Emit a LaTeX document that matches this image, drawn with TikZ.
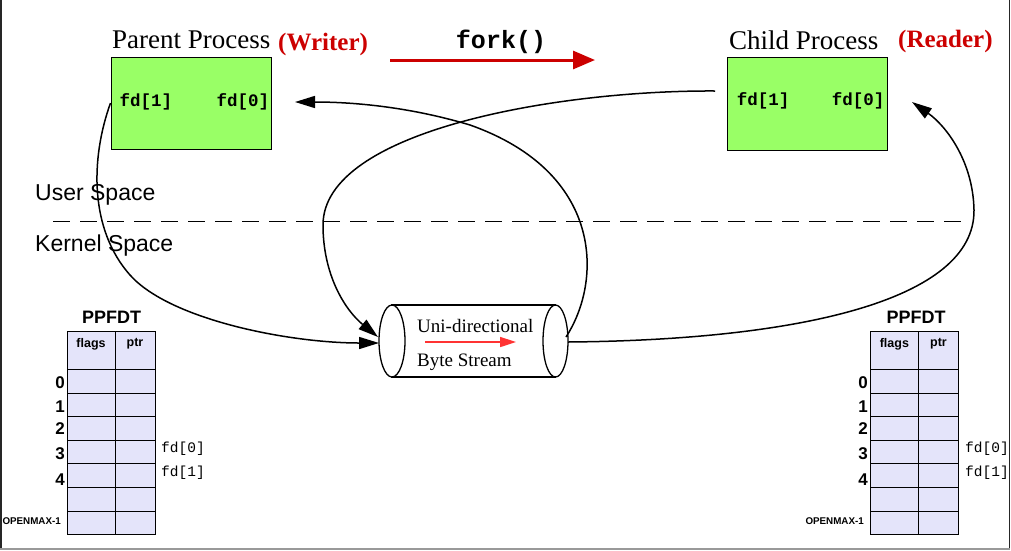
\documentclass[tikz,border=0pt]{standalone}
\usepackage{fontspec}
\setmainfont{Liberation Serif}
\setsansfont{Liberation Sans}
\setmonofont{Liberation Mono}
\usetikzlibrary{arrows.meta}
\definecolor{procgreen}{RGB}{153,255,102}
\definecolor{tablefill}{RGB}{228,228,250}
\definecolor{darkred}{RGB}{204,0,0}
\definecolor{streamred}{RGB}{255,51,51}
\newcommand{\fs}[1]{\fontsize{#1}{#1}\selectfont}
\tikzset{
  proc/.style={draw, fill=procgreen, line width=1pt, minimum width=160pt, minimum height=92pt, inner sep=0pt},
  fdtext/.style={font=\ttfamily\bfseries\fs{17.5}, inner sep=0pt},
  title/.style={font=\fs{27}, inner sep=0pt, anchor=base west},
  role/.style={font=\bfseries\fs{25}, text=darkred, inner sep=0pt, anchor=base west},
  spacelbl/.style={font=\sffamily\fs{23}, inner sep=0pt, anchor=west},
  conn/.style={line width=1.5pt, -{Triangle[length=20pt,width=12pt]}},
  cell/.style={draw, fill=tablefill, line width=1pt},
  hdr/.style={font=\sffamily\bfseries\fs{12.5}, inner sep=0pt},
  idx/.style={font=\sffamily\bfseries\fs{17}, inner sep=0pt, anchor=east},
  omax/.style={font=\sffamily\bfseries\fs{9.8}, inner sep=0pt, anchor=east},
  tfd/.style={font=\ttfamily\fs{14.5}, inner sep=0pt, anchor=west},
  tabtitle/.style={font=\sffamily\bfseries\fs{18}, inner sep=0pt},
  pipetext/.style={font=\fs{19}, inner sep=0pt, anchor=base west},
}
\begin{document}
\begin{tikzpicture}[x=1pt,y=-1pt]
\useasboundingbox (0,0) rectangle (1011,550);
% frame
\draw[line width=1.5pt, black!85] (1,0) -- (1,548);
\draw[line width=1.5pt, black!85] (1009.5,0) -- (1009.5,548);
\draw[line width=2pt, black!40] (0,548.5) -- (1010,548.5);

% processes
\node[proc] (P) at (191,103) {};
\node[proc, minimum height=93pt] (C) at (807,103.5) {};
\node[fdtext] (pfd1) at (146,102) {fd[1]};
\node[fdtext] (pfd0) at (243,102) {fd[0]};
\node[fdtext] (cfd1) at (763,101) {fd[1]};
\node[fdtext] (cfd0) at (858,101) {fd[0]};
\node[title] (pt) at (112,48) {Parent Process};
\node[role] (pw) at (278,50) {(Writer)};
\node[title] (ct) at (729,49) {Child Process};
\node[role] (cr) at (898,47) {(Reader)};

% fork
\node[font=\ttfamily\bfseries\fs{25}, inner sep=0pt] (fork) at (501,42) {fork()};
\coordinate (forkS) at (390,60);
\coordinate (forkE) at (595,60);
\draw[darkred, line width=3pt, -{Triangle[length=22pt,width=18pt]}] (forkS) -- (forkE);

% user / kernel
\node[spacelbl] (us) at (35,195) {User Space};
\node[spacelbl] (ks) at (35,246) {Kernel Space};
\coordinate (dashS) at (53,221);
\coordinate (dashE) at (968,221);
\draw[line width=0.8pt, dash pattern=on 17pt off 10pt] (dashS) -- (dashE);

% pipe
\node[minimum width=163pt, minimum height=72pt, inner sep=0pt] (pipe) at (474,341) {};
\draw[line width=1.3pt, fill=white] (392,305) -- (555.5,305) -- (555.5,377) -- (392,377) -- cycle;
\draw[line width=1.3pt, fill=white] (392,341) ellipse [x radius=13, y radius=36];
\draw[line width=1.3pt, fill=white] (555.5,341) ellipse [x radius=12.5, y radius=36];
\draw[line width=1.3pt] (392,305) -- (555.5,305);
\draw[line width=1.3pt] (392,377) -- (555.5,377);
\node[pipetext] (uni) at (417,332) {Uni-directional};
\node[pipetext] (byte) at (417,366) {Byte Stream};
\coordinate (sS) at (425,342);
\coordinate (sE) at (516,342);
\draw[streamred, line width=1.6pt, -{Triangle[length=16pt,width=10pt]}] (sS) -- (sE);

\coordinate (pinL) at (379,343);
\coordinate (pinL2) at (378,337);
\coordinate (poutR) at (566,337);
\coordinate (poutR2) at (568,342);
\coordinate (cstart) at (715,91);
\coordinate (ptip) at (295,102);
\coordinate (ctip) at (912,102);

% connectors
\draw[conn] (P.west) .. controls (90,160) and (90,230) .. (130,275)
   .. controls (170,320) and (290,343) .. (pinL);
\draw[conn] (cstart) .. controls (560,90) and (323,130) .. (323,225)
   .. controls (323,275) and (345,310) .. (pinL2);
\draw[conn] (poutR) .. controls (603,280) and (603,172) .. (470,125)
   .. controls (400,104) and (340,102) .. (ptip);
\draw[conn] (poutR2) .. controls (800,340) and (975,300) .. (974,210)
   .. controls (973,160) and (945,125) .. (ctip);

% tables
\foreach \side/\xl/\xm/\xr/\tx/\fx in {L/67/115/155/111.7/161, R/870/918.7/958.3/916/965} {
  \node[tabtitle] (tt\side) at (\tx,317) {PPFDT};
  \draw[cell] (\xl,331.5) rectangle (\xm,369.5);
  \draw[cell] (\xm,331.5) rectangle (\xr,369.5);
  \foreach \i in {0,...,6} {
    \draw[cell] (\xl,369.5+23.6*\i) rectangle (\xm,369.5+23.6*\i+23.6);
    \draw[cell] (\xm,369.5+23.6*\i) rectangle (\xr,369.5+23.6*\i+23.6);
  }
  \node[hdr] (fl\side) at ({(\xl+\xm)/2},344) {flags};
  \node[hdr] (pr\side) at ({(\xm+\xr)/2},344) {ptr};
  \node[tfd] (fa\side) at (\fx,449) {fd[0]};
  \node[tfd] (fb\side) at (\fx,473) {fd[1]};
  \node[idx] (n0\side) at (\xl-2,382.7) {0};
  \node[idx] (n1\side) at (\xl-2,407) {1};
  \node[idx] (n2\side) at (\xl-2,429) {2};
  \node[idx] (n3\side) at (\xl-2,454) {3};
  \node[idx] (n4\side) at (\xl-2,480) {4};
  \node[omax] (om\side) at (\xl-6,521) {OPENMAX-1};
}
\end{tikzpicture}
\end{document}
